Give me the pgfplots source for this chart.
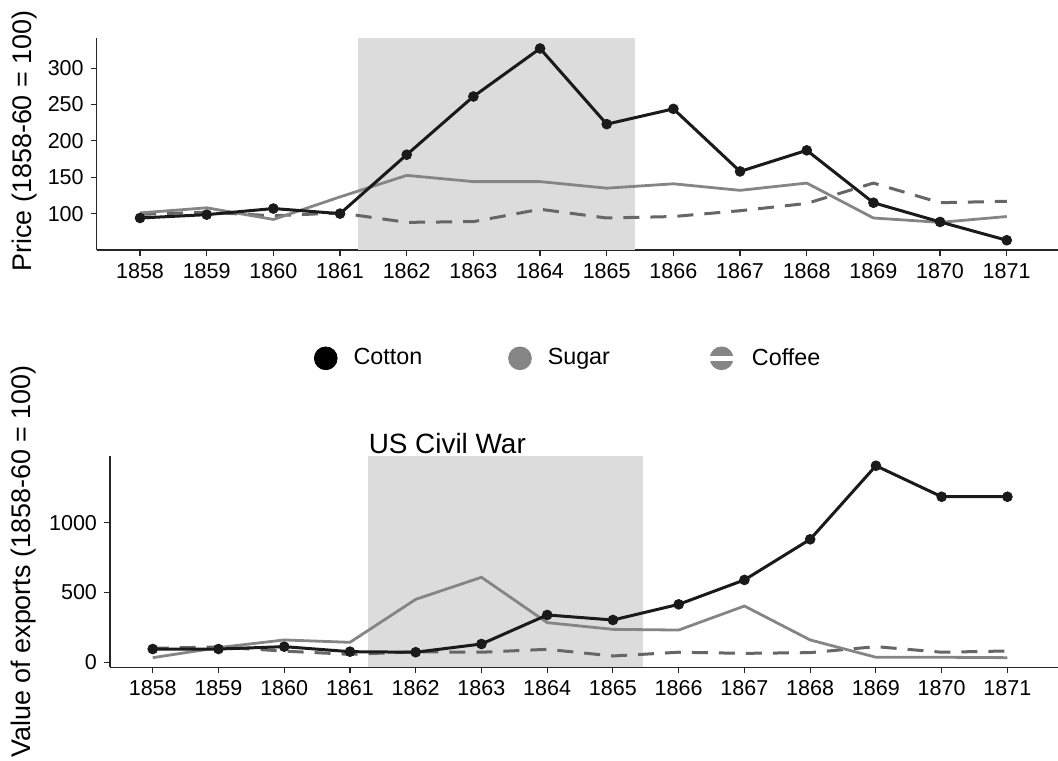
\documentclass[border=0pt]{standalone}
\usepackage{fontspec}
\setmainfont{Liberation Sans}
\usepackage{pgfplots}
\pgfplotsset{compat=1.18}
\definecolor{cot}{HTML}{1A1A1A}
\definecolor{sug}{HTML}{858585}
\definecolor{cof}{HTML}{666666}
\definecolor{shade}{HTML}{DCDCDC}
\pgfplotsset{
  base/.style={
    scale only axis,
    clip mode=individual,
    axis lines*=left,
    axis line style={-, draw=black!85, line width=0.6bp},
    xtick={1858,...,1871},
    tick align=outside,
    major tick length=3bp,
    tick style={black!85, line width=0.6bp},
    xtick pos=bottom, ytick pos=left,
    tick label style={font=\fontsize{10.8}{12}\selectfont},
    /pgf/number format/1000 sep={},
    /pgf/number format/assume math mode=true,
    xmin=1857.35, xmax=1871.8,
    ylabel style={font=\fontsize{13.5}{15}\selectfont, anchor=center},
  },
  cotton/.style={cot, line width=1.5bp, mark=*, mark size=2.45bp, mark options={fill=cot, draw=cot, solid, line width=0.4bp}},
  sugar/.style={sug, line width=1.4bp, no marks},
  coffee/.style={cof, line width=1.5bp, no marks, dash pattern=on 8bp off 5.5bp},
}
\begin{document}
\begin{tikzpicture}
\useasboundingbox (0,0) rectangle (529bp,-380.5bp);
% ---------------- top panel ----------------
\begin{axis}[base,
  at={(48.35bp,-125bp)}, anchor=south west,
  width=481.7bp, height=105.85bp,
  ymin=50, ymax=341,
  ytick={100,150,200,250,300},
  ylabel={Price (1858-60 = 100)},
  ylabel style={at={(axis description cs:-0.0744,0.515)}},
]
\addplot[fill=shade, draw=none, forget plot] coordinates {(1861.27,50) (1865.43,50) (1865.43,341) (1861.27,341)} -- cycle;
\addplot[coffee] coordinates {(1858,99) (1859,102) (1860,97) (1861,101) (1862,88) (1863,89) (1864,106) (1865,94) (1866,96) (1867,104) (1868,114) (1869,142) (1870,115) (1871,117)};
\addplot[sugar] coordinates {(1858,101) (1859,108) (1860,92) (1861,123) (1862,152.6) (1863,144) (1864,144) (1865,135) (1866,141) (1867,132) (1868,142) (1869,94) (1870,88) (1871,96)};
\addplot[cotton] coordinates {(1858,94) (1859,98.6) (1860,107) (1861,100) (1862,181) (1863,261) (1864,327) (1865,223) (1866,244) (1867,158) (1868,187) (1869,115) (1870,88.6) (1871,63.4)};
\end{axis}
% ---------------- bottom panel ----------------
\begin{axis}[base,
  at={(55bp,-333.65bp)}, anchor=south west,
  width=475bp, height=105.8bp,
  ymin=-36, ymax=1480,
  ytick={0,500,1000},
  ylabel={Value of exports (1858-60 = 100)},
  ylabel style={at={(axis description cs:-0.0905,0.5)}},
  legend columns=3,
  legend style={draw=none, fill=none, at={(axis description cs:0.2143,1.4603)}, anchor=west,
    inner sep=0pt, font=\fontsize{11.7}{13}\selectfont,
    nodes={inner sep=0pt},
    /tikz/every odd column/.append style={column sep=8bp},
    /tikz/every even column/.append style={column sep=0bp}},
]
\addplot[fill=shade, draw=none, forget plot] coordinates {(1861.28,-36) (1865.45,-36) (1865.45,1480) (1861.28,1480)} -- cycle;
\node[anchor=base west, inner sep=0pt, font=\fontsize{14}{16}\selectfont] at (axis cs:1861.28,1480) [yshift=1.2bp] {US Civil War};
\addplot[coffee, forget plot] coordinates {(1858,100) (1859,110) (1860,80) (1861,57) (1862,75) (1863,72) (1864,93) (1865,45) (1866,72) (1867,64) (1868,69) (1869,112) (1870,72) (1871,81)};
\addplot[sugar, forget plot] coordinates {(1858,33) (1859,105) (1860,160) (1861,143) (1862,451) (1863,609) (1864,284) (1865,236) (1866,231) (1867,403) (1868,160) (1869,36) (1870,36) (1871,33)};
\addplot[cotton, forget plot] coordinates {(1858,95) (1859,95) (1860,112) (1861,76) (1862,72) (1863,131) (1864,339) (1865,303) (1866,415) (1867,590) (1868,881) (1869,1408) (1870,1186) (1871,1186)};
\addlegendimage{legend image code/.code={\fill[black] (0,0) circle (5.7bp);}}
\addlegendentry{\makebox[77.3bp][l]{Cotton}}
\addlegendimage{legend image code/.code={\fill[sug] (0,0) circle (5.7bp);}}
\addlegendentry{\makebox[79.7bp][l]{Sugar}}
\addlegendimage{legend image code/.code={\fill[sug] (0,0) circle (5.7bp); \draw[white, line width=2.4bp] (-6bp,0) -- (6bp,0);}}
\addlegendentry{Coffee}
\end{axis}
\end{tikzpicture}
\end{document}
